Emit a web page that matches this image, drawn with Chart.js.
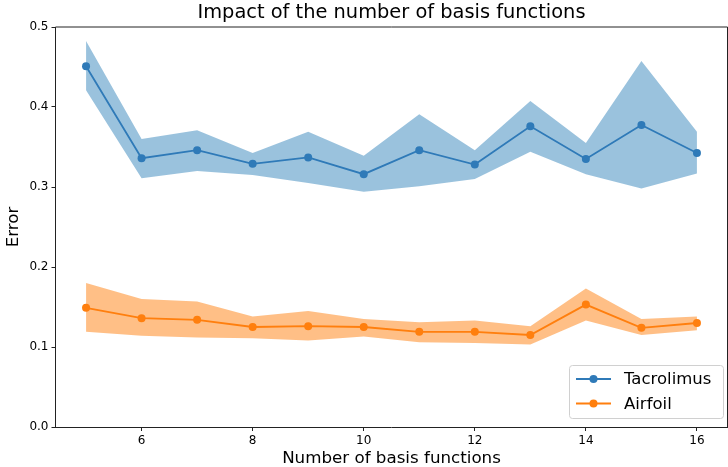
<!DOCTYPE html>
<html>
<head>
<meta charset="utf-8">
<script src="https://cdn.jsdelivr.net/npm/chart.js@4/dist/chart.umd.min.js"></script>
<style>
  html, body { margin: 0; padding: 0; background: #fff; }
  #wrap { width: 728px; height: 467px; }
</style>
</head>
<body>
<div id="wrap"><canvas id="chart" width="728" height="467"></canvas></div>
<script>
// Number of basis functions evaluated
const basisCounts = [5, 6, 7, 8, 9, 10, 11, 12, 13, 14, 15, 16];

// Tacrolimus: mean error and spread band
const tacrolimusMean  = [0.451, 0.336, 0.346, 0.329, 0.337, 0.316, 0.346, 0.328, 0.376, 0.335, 0.3775, 0.3425];
const tacrolimusUpper = [0.4825, 0.360, 0.371, 0.3425, 0.369, 0.339, 0.391, 0.346, 0.4075, 0.355, 0.4575, 0.369];
const tacrolimusLower = [0.421, 0.311, 0.320, 0.315, 0.305, 0.294, 0.301, 0.310, 0.344, 0.316, 0.298, 0.317];

// Airfoil: mean error and spread band
const airfoilMean  = [0.149, 0.136, 0.134, 0.125, 0.126, 0.125, 0.119, 0.119, 0.115, 0.153, 0.124, 0.130];
const airfoilUpper = [0.180, 0.160, 0.157, 0.138, 0.145, 0.135, 0.131, 0.133, 0.126, 0.173, 0.135, 0.138];
const airfoilLower = [0.119, 0.114, 0.112, 0.111, 0.108, 0.113, 0.106, 0.105, 0.103, 0.133, 0.115, 0.121];

const xTicks = [6, 8, 10, 12, 14, 16];
const yTicks = [0.0, 0.1, 0.2, 0.3, 0.4, 0.5];

const chartTitle = 'Impact of the number of basis functions';

const FONT = "'DejaVu Sans', sans-serif";
const BLUE = '#2f7ab8';
const ORANGE = '#ff7f0e';

const pts = (ys) => basisCounts.map((x, i) => ({ x, y: ys[i] }));

function meanSet(label, ys, color) {
  return {
    label, data: pts(ys), borderColor: color, backgroundColor: color,
    borderWidth: 1.8, pointRadius: 4, pointHoverRadius: 4,
    pointBorderWidth: 0, fill: false, tension: 0, inLegend: true
  };
}
function bandSet(ys, fillColor, fillTo) {
  return {
    label: '', data: pts(ys), borderWidth: 0, borderColor: 'rgba(0,0,0,0)',
    pointRadius: 0, pointHoverRadius: 0, backgroundColor: fillColor,
    fill: fillTo, tension: 0, inLegend: false
  };
}

// Title centred over the plotting area
const axesTitle = {
  id: 'axesTitle',
  afterDraw(chart) {
    const { left, right } = chart.chartArea;
    const ctx = chart.ctx;
    ctx.save();
    ctx.font = '19.4px ' + FONT;
    ctx.fillStyle = '#000';
    ctx.textAlign = 'center';
    ctx.textBaseline = 'middle';
    ctx.fillText(chartTitle, (left + right) / 2, 13);
    ctx.restore();
  }
};

// Legend drawn inside the plot, lower right, with line + marker handles
const boxLegend = {
  id: 'boxLegend',
  afterDraw(chart) {
    const ctx = chart.ctx;
    const items = chart.data.datasets.filter(d => d.inLegend);
    const x0 = 569, y0 = 365, w = 154, h = 53, r = 3;
    ctx.save();
    ctx.beginPath();
    ctx.roundRect(x0 + 0.5, y0 + 0.5, w, h, r);
    ctx.fillStyle = 'rgba(255,255,255,0.8)';
    ctx.fill();
    ctx.strokeStyle = '#d0d0d0';
    ctx.lineWidth = 1;
    ctx.stroke();
    ctx.font = '16.5px ' + FONT;
    ctx.textBaseline = 'middle';
    ctx.textAlign = 'left';
    items.forEach((d, i) => {
      const cy = 379 + i * 24.5;
      ctx.strokeStyle = d.borderColor;
      ctx.lineWidth = 1.8;
      ctx.beginPath();
      ctx.moveTo(576, cy);
      ctx.lineTo(611, cy);
      ctx.stroke();
      ctx.fillStyle = d.borderColor;
      ctx.beginPath();
      ctx.arc(593.5, cy, 4, 0, Math.PI * 2);
      ctx.fill();
      ctx.fillStyle = '#000';
      ctx.fillText(d.label, 624, cy + 1);
    });
    ctx.restore();
  }
};

// Top and right frame lines of the axes box
const frame = {
  id: 'frame',
  afterDraw(chart) {
    const { left, right, top, bottom } = chart.chartArea;
    const ctx = chart.ctx;
    ctx.save();
    ctx.strokeStyle = '#222';
    ctx.lineWidth = 1;
    ctx.beginPath();
    ctx.moveTo(left, top);
    ctx.lineTo(right, top);
    ctx.lineTo(right, bottom);
    ctx.stroke();
    ctx.restore();
  }
};

new Chart(document.getElementById('chart'), {
  type: 'line',
  data: {
    datasets: [
      meanSet('Tacrolimus', tacrolimusMean, BLUE),
      meanSet('Airfoil', airfoilMean, ORANGE),
      bandSet(tacrolimusUpper, 'rgba(31,119,180,0.45)', '+1'),
      bandSet(tacrolimusLower, 'rgba(31,119,180,0.45)', false),
      bandSet(airfoilUpper, 'rgba(255,127,14,0.5)', '+1'),
      bandSet(airfoilLower, 'rgba(255,127,14,0.5)', false)
    ]
  },
  options: {
    responsive: false,
    animation: false,
    devicePixelRatio: 1,
    layout: { autoPadding: false, padding: { left: 0, right: 0.5, top: 27, bottom: 0 } },
    plugins: {
      legend: { display: false },
      tooltip: { enabled: false },
      title: { display: false }
    },
    scales: {
      x: {
        type: 'linear',
        min: 4.45, max: 16.55,
        afterFit(scale) { scale.height = 40; scale.paddingLeft = 0; scale.paddingRight = 0; },
        afterBuildTicks(scale) { scale.ticks = xTicks.map(v => ({ value: v })); },
        ticks: { color: '#000', font: { family: FONT, size: 12 }, padding: 3, maxRotation: 0, includeBounds: false,
                 callback: v => String(v) },
        grid: { drawOnChartArea: false, drawTicks: true, tickLength: 4, color: '#222' },
        border: { display: true, color: '#222', width: 1 },
        title: { display: true, text: 'Number of basis functions', color: '#000',
                 font: { family: FONT, size: 16.7, lineHeight: 1 }, padding: { top: 0, bottom: 0 } }
      },
      y: {
        type: 'linear',
        min: 0, max: 0.5,
        afterFit(scale) { scale.width = 55.5; scale.paddingTop = 0; scale.paddingBottom = 0; },
        afterBuildTicks(scale) { scale.ticks = yTicks.map(v => ({ value: v })); },
        ticks: { color: '#000', font: { family: FONT, size: 12 }, padding: 3,
                 callback: v => Number(v).toFixed(1) },
        grid: { drawOnChartArea: false, drawTicks: true, tickLength: 4, color: '#222' },
        border: { display: true, color: '#222', width: 1 },
        title: { display: true, text: 'Error', color: '#000',
                 font: { family: FONT, size: 16.7, lineHeight: 1 }, padding: { top: 5, bottom: 0 } }
      }
    }
  },
  plugins: [frame, axesTitle, boxLegend]
});
</script>
</body>
</html>
